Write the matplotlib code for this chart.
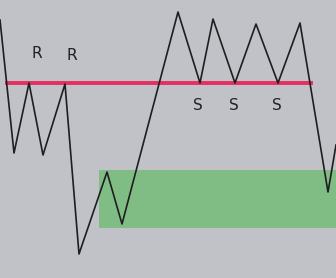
import matplotlib.pyplot as plt
from matplotlib.patches import Rectangle

# price path (time, price)
time = [0, 14, 29, 43, 65, 79, 107, 122, 178, 200, 213, 235, 256, 278, 300, 328, 336]
price = [258, 125, 195, 123, 194, 24, 106, 54, 266, 195, 259, 195, 254, 195, 255, 86, 133]

level = 195            # resistance turned support
level_span = (7, 311)
zone_low, zone_high = 50, 108
zone_start = 99

r_labels = [(37, 224), (72, 222)]
s_labels = [(198, 172), (234, 172), (277, 172)]

fig = plt.figure(figsize=(3.36, 2.78), dpi=100)
fig.patch.set_facecolor('#c0c2c8')
ax = fig.add_axes([0, 0, 1, 1])
ax.set_facecolor('#c0c2c8')
ax.set_xlim(0, 336)
ax.set_ylim(0, 278)
ax.axis('off')

ax.add_patch(Rectangle((zone_start, zone_low), 336 - zone_start, zone_high - zone_low,
                       color='#80bd85', lw=0, zorder=1))
ax.plot(level_span, [level, level], color='#e5305f', lw=2.8, zorder=2)
ax.plot(time, price, color='#1e1e1e', lw=1.2, zorder=3)

for x, y in r_labels:
    ax.text(x, y, 'R', ha='center', va='center', fontsize=11, color='#222222')
for x, y in s_labels:
    ax.text(x, y, 'S', ha='center', va='center', fontsize=11, color='#222222')

fig.savefig('out.png', dpi=100, facecolor=fig.get_facecolor())
